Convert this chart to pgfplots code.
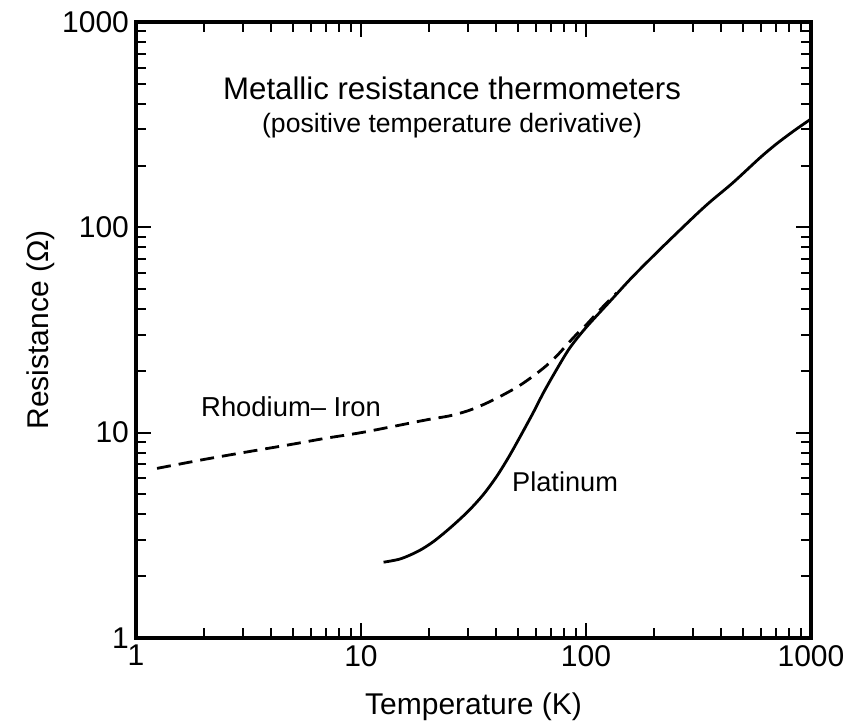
\documentclass[border=0pt]{standalone}
\usepackage{fontspec}
\setmainfont{Liberation Sans}
\usepackage{pgfplots}
\pgfplotsset{compat=1.18}

% Platinum resistance
\pgfplotstableread{
T R
12.6 2.34
15 2.43
18 2.65
21 2.95
25 3.45
30 4.15
35 5.0
40 6.1
45 7.5
50 9.2
58 12.4
65 15.8
75 20.8
85 26.0
100 32.5
130 44.5
160 57
213 78
300 112
356 133
450 165
593 218
706 256
850 298
1000 337
}\platinum

% Rhodium-iron resistance
\pgfplotstableread{
T R
1.24 6.7
2 7.4
3 8.0
5 8.8
7 9.4
10 10.0
15 10.9
20 11.6
25 12.1
30 12.8
35 13.7
41.5 15.0
50 16.8
58 18.8
66 21.0
74 23.6
82 26.7
91 30.2
100 33.4
115 39.5
137 48
}\rhfe

\begin{document}
\begin{tikzpicture}
\begin{axis}[
    xmode=log, ymode=log,
    scale only axis,
    width=337.5pt, height=308pt,
    xmin=1, xmax=1000, ymin=1, ymax=1000,
    xtick={1,10,100,1000}, xticklabels={1,10,100,1000},
    ytick={1,10,100,1000}, yticklabels={1,10,100,1000},
    tick align=inside,
    major tick length=7.5pt, minor tick length=5pt,
    every tick/.style={black, line width=1pt},
    axis line style={line width=2pt},
    ticklabel style={font=\fontsize{15}{18}\selectfont},
    label style={font=\fontsize{15}{18}\selectfont},
    xlabel={Temperature (K)},
    ylabel={Resistance (Ω)},
    xlabel style={at={(axis description cs:0.5,-0.1234)}, anchor=base},
    ylabel style={at={(axis description cs:-0.129,0.5)}, anchor=base},
    clip=false,
]
\addplot[black, line width=1.4pt, smooth] table[x=T, y=R] {\platinum};
\addplot[black, line width=1.4pt, smooth, dash pattern=on 7pt off 4pt] table[x=T, y=R] {\rhfe};

\node[anchor=base, font=\fontsize{15.6}{18}\selectfont] at (axis cs:25.4,417) {Metallic resistance thermometers};
\node[anchor=base, font=\fontsize{13.3}{16}\selectfont] at (axis cs:25.4,288) {(positive temperature derivative)};
\node[anchor=base, font=\fontsize{13.7}{16}\selectfont] at (axis cs:4.89,12.0) {Rhodium– Iron};
\node[anchor=base, font=\fontsize{13.6}{16}\selectfont] at (axis cs:80.7,5.18) {Platinum};

\coordinate (sw) at (rel axis cs:0,0);
\coordinate (ne) at (rel axis cs:1,1);
\end{axis}
\pgfresetboundingbox
\path[use as bounding box] ([shift={(-68pt,-45pt)}]sw) rectangle ([shift={(21.5pt,11pt)}]ne);
\end{tikzpicture}
\end{document}
